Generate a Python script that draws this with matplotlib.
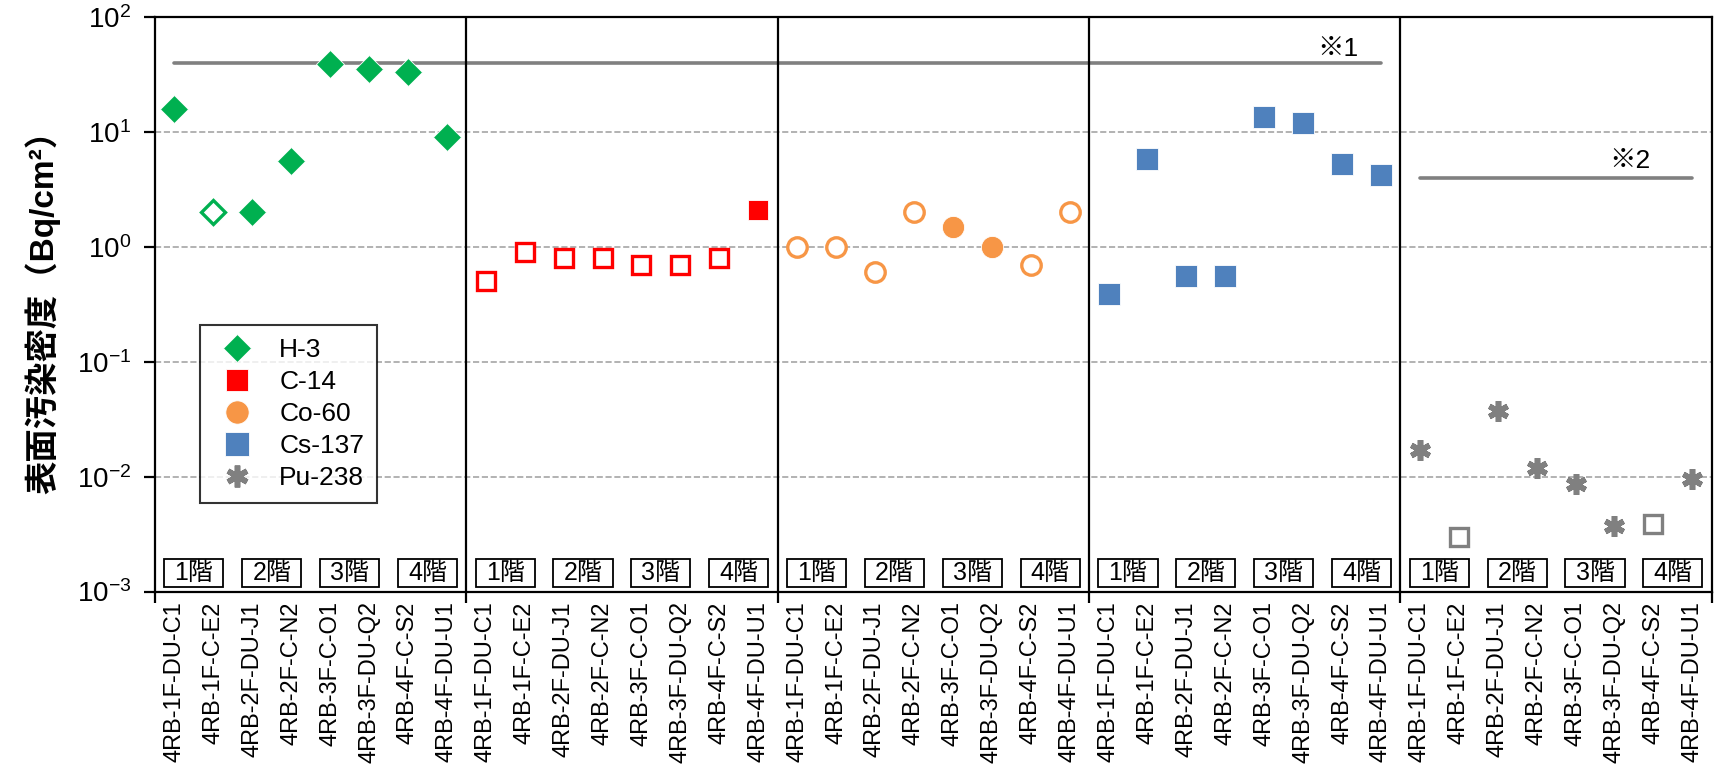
import matplotlib
matplotlib.use("Agg")
import matplotlib.pyplot as plt
import matplotlib.transforms as mtransforms
from matplotlib.patches import Rectangle
import numpy as np

# サンプル名・核種
samples = ['4RB-1F-DU-C1', '4RB-1F-C-E2', '4RB-2F-DU-J1', '4RB-2F-C-N2',
           '4RB-3F-C-O1', '4RB-3F-DU-Q2', '4RB-4F-C-S2', '4RB-4F-DU-U1']
floors = ['1階', '2階', '3階', '4階']
nuclides = ['H-3', 'C-14', 'Co-60', 'Cs-137', 'Pu-238']

# 表面汚染密度 (Bq/cm2)  False = 検出限界値
h3 = [16, 2.0, 2.0, 5.6, 39, 35, 33, 9.0]
h3_det = [True, False, True, True, True, True, True, True]
c14 = [0.5, 0.9, 0.8, 0.8, 0.7, 0.7, 0.8, 2.1]
c14_det = [False, False, False, False, False, False, False, True]
co60 = [1.0, 1.0, 0.6, 2.0, 1.5, 1.0, 0.7, 2.0]
co60_det = [False, False, False, False, True, True, False, False]
cs137 = [0.39, 5.8, 0.56, 0.56, 13.6, 12, 5.3, 4.2]
cs137_det = [True, True, True, True, True, True, True, True]
pu238 = [0.017, 0.003, 0.037, 0.012, 0.0087, 0.0037, 0.0039, 0.0095]
pu238_det = [True, False, True, True, True, True, False, True]

# 基準線 ※1, ※2
limit1 = 40
limit2 = 4

plt.rcParams['font.family'] = ['Liberation Sans', 'Noto Sans CJK JP']

series = [
    (h3, h3_det, '#00B050', 'D', 14, 'D'),
    (c14, c14_det, '#FF0000', 's', 15, 's'),
    (co60, co60_det, '#F79646', 'o', 16, 'o'),
    (cs137, cs137_det, '#4F81BD', 's', 16, 's'),
    (pu238, pu238_det, '#808080', (6, 2, 0), 15, 's'),
]

n = len(samples)
fig = plt.figure(figsize=(17.14, 7.77), dpi=100)
ax = fig.add_axes([0.0904, 0.2387, 0.9083, 0.7393])

for i, (vals, det, col, mk, ms, open_mk) in enumerate(series):
    x = np.arange(n) + i * n
    vals = np.array(vals)
    det = np.array(det)
    if isinstance(mk, tuple):
        ax.plot(x[det], vals[det], linestyle='none', marker=mk, ms=ms,
                color=col, mew=4, label=nuclides[i], zorder=3)
    else:
        ax.plot(x[det], vals[det], linestyle='none', marker=mk, ms=ms,
                color=col, mec='white', mew=0.6, label=nuclides[i], zorder=3)
    ax.plot(x[~det], vals[~det], linestyle='none', marker=open_mk,
            ms=ms - 2, mfc='white', mec=col, mew=2.4, zorder=3)

# 基準線
ax.plot([0, 4 * n - 1], [limit1, limit1], color='#808080', lw=2.6,
        solid_capstyle='round', zorder=2)
ax.plot([4 * n, 5 * n - 1], [limit2, limit2], color='#808080', lw=2.6,
        solid_capstyle='round', zorder=2)
ax.text(29.9, 53, '※1', fontsize=19, ha='center', va='center')
ax.text(37.4, 5.6, '※2', fontsize=19, ha='center', va='center')

# 区切り線
for k in range(1, 5):
    ax.axvline(k * n - 0.5, color='black', lw=1.6, zorder=2)

# 階ラベル
trans = mtransforms.blended_transform_factory(ax.transData, ax.transAxes)
for p in range(5):
    for f, name in enumerate(floors):
        cx = p * n + 2 * f + 0.5
        ax.add_patch(Rectangle((cx - 0.76, 0.0078), 1.52, 0.0495,
                               transform=trans, fc='white', ec='black',
                               lw=1.3, zorder=4))
        ax.text(cx, 0.032, name, transform=trans, fontsize=18,
                ha='center', va='center', zorder=5)

ax.set_yscale('log')
ax.set_ylim(1e-3, 1e2)
ax.set_xlim(-0.5, 5 * n - 0.5)
ax.yaxis.grid(True, which='major', color='#A6A6A6', linestyle='--', lw=1.2)
ax.minorticks_off()

ax.set_xticks(np.arange(5 * n))
ax.set_xticklabels(samples * 5, rotation=90, fontsize=17)
ax.tick_params(axis='x', which='major', length=0, pad=7)
ax.set_xticks([k * n - 0.5 for k in range(6)], minor=True)
ax.tick_params(axis='x', which='minor', length=8, width=1.6, direction='out')
ax.tick_params(axis='y', which='major', labelsize=20, length=8, width=1.6,
               pad=9)

for s in ax.spines.values():
    s.set_linewidth(1.6)

ax.set_ylabel('表面汚染密度（Bq/cm²）', fontsize=24, fontweight='bold',
              labelpad=12)

leg = ax.legend(loc='upper left', bbox_to_anchor=(0.029, 0.464),
                borderaxespad=0, fontsize=19, frameon=True, fancybox=False,
                handletextpad=0.7, labelspacing=0.3, borderpad=0.5,
                handlelength=1.8, markerscale=1.05)
leg.get_frame().set_edgecolor('black')
leg.get_frame().set_linewidth(1.5)

fig.savefig('out.png', dpi=100, facecolor='white')
